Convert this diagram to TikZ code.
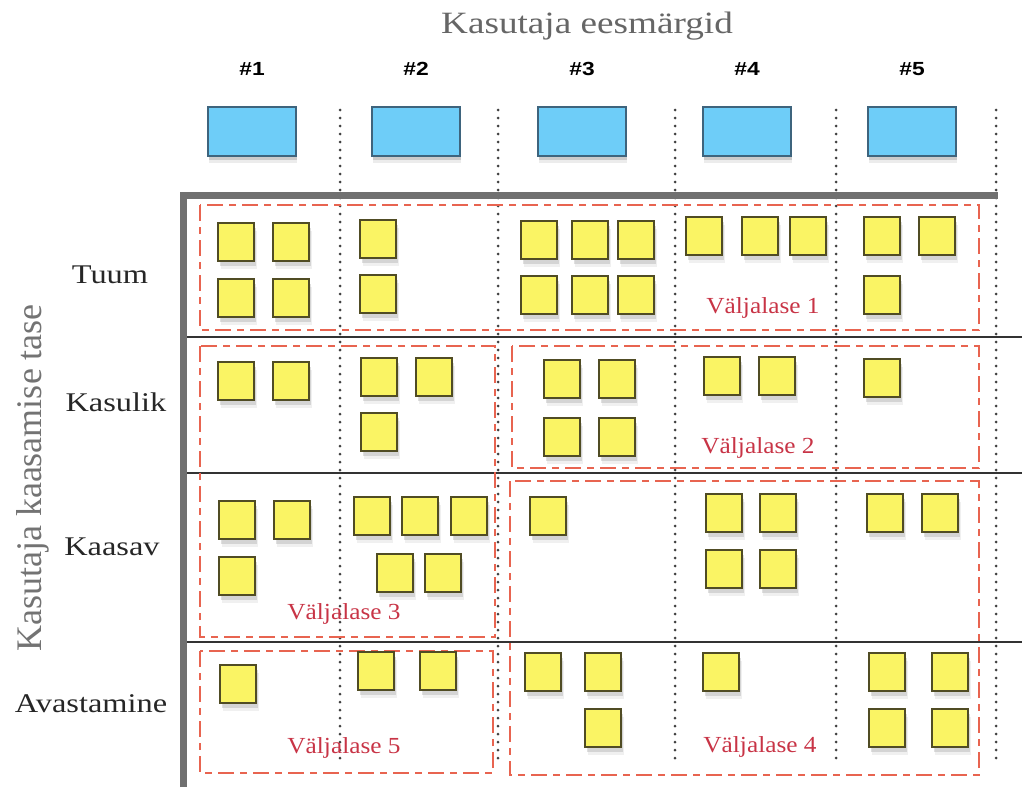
\documentclass[tikz,border=0pt]{standalone}
\usepackage{fontspec}
\setmainfont{Liberation Serif}
\newfontfamily\widefont[FakeStretch=1.2]{Liberation Serif}
\newfontfamily\relfont[FakeStretch=1.1]{Liberation Serif}
\newfontfamily\hashfont[FakeStretch=1.2]{Liberation Sans}
\definecolor{goalblue}{RGB}{110,205,248}
\definecolor{goaledge}{RGB}{62,100,125}
\definecolor{storyyellow}{RGB}{250,244,100}
\definecolor{storyedge}{RGB}{80,76,36}
\definecolor{relred}{RGB}{232,100,80}
\definecolor{reltext}{RGB}{200,52,70}
\definecolor{axisgray}{RGB}{112,112,112}
\usetikzlibrary{shadows}

\begin{document}
\begin{tikzpicture}[x=1pt,y=-1pt,
  goal/.style={draw=goaledge,line width=2pt,fill=goalblue,minimum width=88pt,minimum height=49pt,inner sep=0pt,
    drop shadow={shadow xshift=1pt,shadow yshift=-7pt,opacity=0.15},
    drop shadow={shadow xshift=1pt,shadow yshift=-4pt,opacity=0.3}},
  story/.style={draw=storyedge,line width=2pt,fill=storyyellow,minimum width=36pt,minimum height=38pt,inner sep=0pt,
    drop shadow={shadow xshift=3pt,shadow yshift=-8pt,opacity=0.12},
    drop shadow={shadow xshift=2pt,shadow yshift=-5pt,opacity=0.25}},
  hash/.style={anchor=base,font=\hashfont\bfseries\fontsize{19}{19}\selectfont},
  level/.style={anchor=base,text=black!85,font=\widefont\fontsize{27}{27}\selectfont},
  release/.style={draw=relred,line width=2.4pt,dash pattern=on 16pt off 6pt on 7pt off 6pt},
  rellabel/.style={anchor=base,text=reltext,font=\relfont\fontsize{23}{23}\selectfont},
  sep/.style={black!80,line width=1.8pt},
  colsep/.style={black!75,line width=3pt,line cap=round,dash pattern=on 0pt off 8pt}
]
\useasboundingbox (0,0) rectangle (1022,787);

% Titles
\node[anchor=base,text=black!60,font=\widefont\fontsize{31}{31}\selectfont] (goals) at (587,33) {Kasutaja eesmärgid};
\node[anchor=base,rotate=90,text=black!55,font=\fontsize{36}{36}\selectfont] (levels) at (41,478) {Kasutaja kaasamise tase};

% Goals
\foreach \x [count=\i] in {252,416,582,747,912} {
  \node[hash] (h\i) at (\x,75) {\#\i};
  \node[goal] (g\i) at (\x,131.5) {};
}

% Grid
\foreach \x in {340,498,675,836,996}
  \draw[colsep] (\x,110) -- (\x,760);
\foreach \y in {337,473,642}
  \draw[sep] (187,\y) -- (1022,\y);
\draw[axisgray,line width=7pt] (183,787) -- (183,195) -- (998,195);

% Levels
\node[level] (tuum) at (110,283) {Tuum};
\node[level] (kasulik) at (116,411) {Kasulik};
\node[level] (kaasav) at (112,555) {Kaasav};
\node[level] (avastamine) at (91,712) {Avastamine};

% Releases
\draw[release] (200,205) rectangle (979,330);
\draw[release] (512,346) rectangle (979,468);
\draw[release] (200,346) rectangle (495,637);
\draw[release] (510,481) rectangle (979,775);
\draw[release] (200,651) rectangle (493,773);
\node[rellabel] (v1) at (763,313) {Väljalase 1};
\node[rellabel] (v2) at (758,453) {Väljalase 2};
\node[rellabel] (v3) at (344,619) {Väljalase 3};
\node[rellabel] (v4) at (760,752) {Väljalase 4};
\node[rellabel] (v5) at (344,753) {Väljalase 5};

% Stories
\foreach \x/\y [count=\n] in {
  236/242,291/242,236/298,291/298, 378/239,378/294,
  539/240,590/240,636/240,539/295,590/295,636/295,
  704/236,760/236,808/236, 882/236,937/236,882/295,
  236/381,291/381, 379/377,434/377,379/432,
  562/379,617/379,562/437,617/437, 722/376,777/376, 882/378,
  237/520,292/520,237/576, 372/516,420/516,469/516,395/573,443/573,
  548/516, 724/513,778/513,724/569,778/569, 885/513,940/513,
  238/684, 376/671,438/671, 543/672,603/672,603/728, 721/672,
  887/672,950/672,887/728,950/728}
  \node[story] (s\n) at (\x,\y) {};
\end{tikzpicture}
\end{document}
